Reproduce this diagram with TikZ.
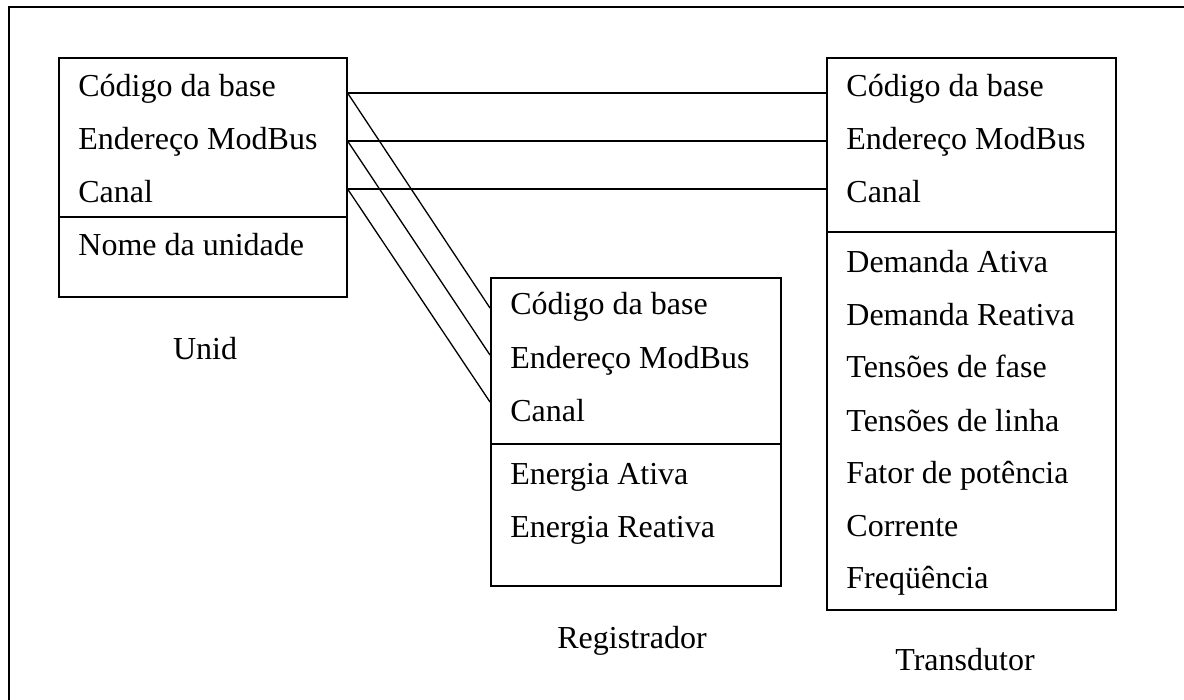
\documentclass[tikz,border=0pt]{standalone}
\usepackage{fontspec}
\setmainfont{Liberation Serif}
\usepackage{tikz}

\begin{document}
\begin{tikzpicture}[x=0.5pt,y=-0.5pt,
		box/.style={draw,line width=0.8pt,rectangle,anchor=north west,inner sep=0pt},
		item/.style={anchor=base west,inner sep=0pt,font=\fontsize{16}{19}\selectfont},
		title/.style={anchor=base,inner sep=0pt,font=\fontsize{16}{19}\selectfont},
		wire/.style={line width=0.65pt}]
		\useasboundingbox (0,0) rectangle (1184,700);
		\draw[line width=1pt] (9,700) -- (9,7.5) -- (1184,7.5);
		
		\node[box,minimum width=144pt,minimum height=119.5pt] (unid) at (58,57) {};
		\draw[wire] (unid.west |- 0,217) -- (unid.east |- 0,217);
		\node[item] (u-1) at (78,97) {Código da base};
		\node[item] (u-2) at (78,150) {Endereço ModBus};
		\node[item] (u-3) at (78,203) {Canal};
		\node[item] (u-4) at (78,256) {Nome da unidade};
		\node[title] (unid-t) at (205,359) {Unid};
		
		\node[box,minimum width=145pt,minimum height=154pt] (reg) at (490,277) {};
		\draw[wire] (reg.west |- 0,444) -- (reg.east |- 0,444);
		\node[item] (r-1) at (510,315) {Código da base};
		\node[item] (r-2) at (510,369) {Endereço ModBus};
		\node[item] (r-3) at (510,422) {Canal};
		\node[item] (r-4) at (510,484) {Energia Ativa};
		\node[item] (r-5) at (510,537) {Energia Reativa};
		\node[title] (reg-t) at (632,648) {Registrador};
		
		\node[box,minimum width=144.5pt,minimum height=276pt] (trans) at (826,57) {};
		\draw[wire] (trans.west |- 0,232) -- (trans.east |- 0,232);
		\node[item] (t-1) at (846,97) {Código da base};
		\node[item] (t-2) at (846,150) {Endereço ModBus};
		\node[item] (t-3) at (846,203) {Canal};
		\node[item] (t-4) at (846,273) {Demanda Ativa};
		\node[item] (t-5) at (846,325.5) {Demanda Reativa};
		\node[item] (t-6) at (846,378) {Tensões de fase};
		\node[item] (t-7) at (846,431) {Tensões de linha};
		\node[item] (t-8) at (846,483) {Fator de potência};
		\node[item] (t-9) at (846,536) {Corrente};
		\node[item] (t-10) at (846,588) {Freqüência};
		\node[title] (trans-t) at (965,670) {Transdutor};
		
		\coordinate (ua) at (unid.east |- 0,93);
		\coordinate (ub) at (unid.east |- 0,141);
		\coordinate (uc) at (unid.east |- 0,189);
		\coordinate (ta) at (trans.west |- 0,93);
		\coordinate (tb) at (trans.west |- 0,141);
		\coordinate (tc) at (trans.west |- 0,189);
		\coordinate (ra) at (reg.west |- 0,308);
		\coordinate (rb) at (reg.west |- 0,355);
		\coordinate (rc) at (reg.west |- 0,402);
		
		\draw[wire] (ua) -- (ta);
		\draw[wire] (ub) -- (tb);
		\draw[wire] (uc) -- (tc);
		\draw[wire] (ua) -- (ra);
		\draw[wire] (ub) -- (rb);
		\draw[wire] (uc) -- (rc);
	\end{tikzpicture}
\end{document}
